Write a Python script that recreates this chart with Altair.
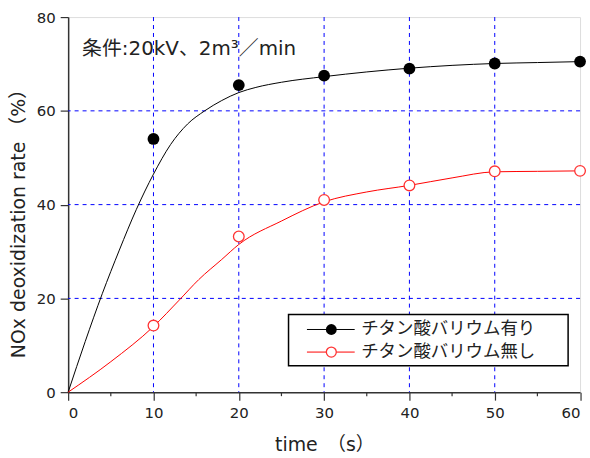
import altair as alt
import pandas as pd

# measured points
time_s = [10, 20, 30, 40, 50, 60]
with_batio3 = [54.0, 65.5, 67.5, 69.0, 70.1, 70.5]
without_batio3 = [14.2, 33.2, 41.0, 44.1, 47.1, 47.2]

# fitted curves
curve_t_with = [0, 2, 4, 6, 8, 10, 12, 14, 16, 18, 20, 22, 25, 30, 35, 40, 45, 50, 55, 60]
curve_with = [0.0, 10.8, 21.0, 30.3, 39.0, 46.5, 52.8, 57.2, 60.0, 62.2, 63.9, 65.0, 66.1,
              67.3, 68.3, 69.1, 69.7, 70.1, 70.3, 70.5]
curve_t_without = [0, 5, 10, 13, 15.3, 18, 20, 25, 30, 35, 40, 45, 50, 55, 60]
curve_without = [0.0, 6.5, 14.0, 19.6, 24.0, 28.3, 31.5, 36.5, 40.6, 42.7, 44.1, 45.7,
                 47.0, 47.1, 47.2]

grid_x = [10, 20, 30, 40, 50]
grid_y = [20, 40, 60]
x_major = [0, 10, 20, 30, 40, 50, 60]
x_minor = [5, 15, 25, 35, 45, 55]
y_major = [0, 20, 40, 60, 80]

legend_labels = ["チタン酸バリウム有り", "チタン酸バリウム無し"]
condition_text = "条件:20kV、2m³／min"
x_title = "time　（s）"
y_title = "NOx deoxidization rate （%）"

CJK = "Noto Sans CJK JP"
FONT = "DejaVu Sans, Noto Sans CJK JP"
BLUE = "#0000ff"
RED = "#ff0000"
INK = "#222222"

xs = alt.Scale(domain=[0, 60], nice=False, zero=False)
ys = alt.Scale(domain=[0, 80], nice=False, zero=False)

pts = pd.DataFrame({"t": time_s, "with": with_batio3, "without": without_batio3})
cw = pd.DataFrame({"t": curve_t_with, "v": curve_with})
cwo = pd.DataFrame({"t": curve_t_without, "v": curve_without})

x_axis = alt.Axis(values=x_major, tickSize=8, labelPadding=5, labelFontSize=15,
                  labelFont=FONT, labelColor=INK, domainColor="#333", domainWidth=1.5,
                  tickColor="#333", tickWidth=1.2, grid=False,
                  title=x_title, titleFont=FONT, titleFontSize=19, titleFontWeight="normal",
                  titleColor=INK, titleX=257.5, titleY=59, titleBaseline="alphabetic")
y_axis = alt.Axis(values=y_major, tickSize=8, labelPadding=5, labelFontSize=15,
                  labelFont=FONT, labelColor=INK, domainColor="#333", domainWidth=1.5,
                  tickColor="#333", tickWidth=1.2, grid=False,
                  title=y_title, titleFont=FONT, titleFontSize=19,
                  titleFontWeight="normal", titleColor=INK, titleAngle=270,
                  titleX=-50, titleY=202.5, titleAlign="center", titleBaseline="middle")

gx = alt.Chart(pd.DataFrame({"g": grid_x})).mark_rule(
    color=BLUE, strokeDash=[4, 4], strokeWidth=1).encode(
    x=alt.X("g:Q", scale=xs, axis=x_axis))
gy = alt.Chart(pd.DataFrame({"g": grid_y})).mark_rule(
    color=BLUE, strokeDash=[4, 4], strokeWidth=1).encode(
    y=alt.Y("g:Q", scale=ys, axis=y_axis))

# short minor ticks below the time axis
minor = alt.Chart(pd.DataFrame({"m": x_minor})).mark_rule(
    color="#333", strokeWidth=1.2).encode(
    x=alt.X("m:Q", scale=xs), y=alt.value(377), y2=alt.value(381))

line_with = alt.Chart(cw).mark_line(color="#000000", strokeWidth=1, interpolate="monotone").encode(
    x=alt.X("t:Q", scale=xs), y=alt.Y("v:Q", scale=ys))
line_without = alt.Chart(cwo).mark_line(color=RED, strokeWidth=1, interpolate="monotone").encode(
    x=alt.X("t:Q", scale=xs), y=alt.Y("v:Q", scale=ys))

dots_with = alt.Chart(pts).mark_point(shape="circle", filled=True, color="#000000",
                                      size=140, opacity=1).encode(
    x=alt.X("t:Q", scale=xs), y=alt.Y("with:Q", scale=ys))
dots_without = alt.Chart(pts).mark_point(shape="circle", filled=True, fill="white",
                                         stroke="#ff3333", strokeWidth=1.3,
                                         size=115, opacity=1).encode(
    x=alt.X("t:Q", scale=xs), y=alt.Y("without:Q", scale=ys))

note = alt.Chart(pd.DataFrame({"s": [condition_text]})).mark_text(
    align="left", baseline="middle", font=FONT, fontSize=20, color=INK).encode(
    x=alt.value(14), y=alt.value(32), text="s:N")

# legend box
lbox = alt.Chart(pd.DataFrame({"a": [0]})).mark_rect(
    fill="white", stroke="#000", strokeWidth=1.5).encode(
    x=alt.value(221.5), x2=alt.value(502.5), y=alt.value(299), y2=alt.value(350.5))

leg = []
for i, (lab, col) in enumerate(zip(legend_labels, ["#000000", RED])):
    yy = 314 + i * 22.7
    d = pd.DataFrame({"s": [lab]})
    leg.append(alt.Chart(d).mark_rule(color=col, strokeWidth=1).encode(
        x=alt.value(240), x2=alt.value(288), y=alt.value(yy)))
    if i == 0:
        leg.append(alt.Chart(d).mark_point(shape="circle", filled=True, color="#000",
                                           size=120, opacity=1).encode(
            x=alt.value(264.5), y=alt.value(yy)))
    else:
        leg.append(alt.Chart(d).mark_point(shape="circle", filled=True, fill="white",
                                           stroke="#ff3333", strokeWidth=1.3,
                                           size=100, opacity=1).encode(
            x=alt.value(264.5), y=alt.value(yy)))
    leg.append(alt.Chart(d).mark_text(align="left", baseline="middle", font=CJK,
                                      fontSize=17.5, color=INK).encode(
        x=alt.value(294.5), y=alt.value(yy), text="s:N"))

chart = alt.layer(gx, gy, minor, line_with, line_without, dots_with, dots_without,
                  note, lbox, *leg).properties(
    width=514.5, height=377,
    autosize=alt.AutoSizeParams(type="none"),
    padding={"left": 68.5, "top": 16, "right": 10, "bottom": 65},
).configure_view(stroke="#222", strokeWidth=1.5).configure(background="white")

chart.save("out.html", embed_options={"renderer": "svg", "actions": False})
